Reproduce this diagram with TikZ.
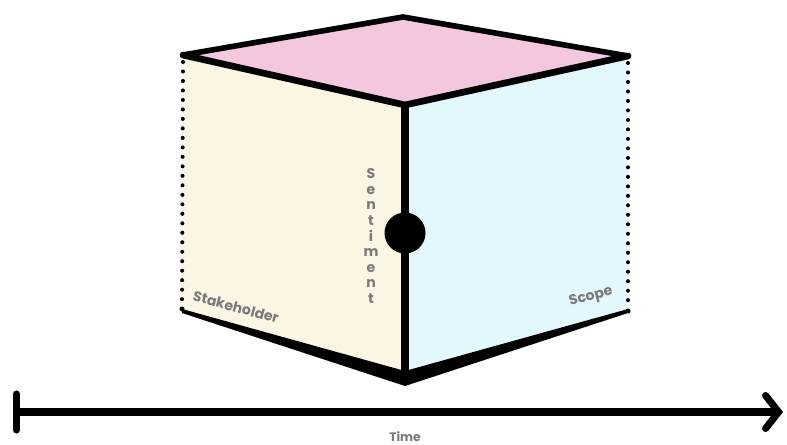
\documentclass[tikz,border=0pt]{standalone}
\usepackage{fontspec}
\setmainfont{Poppins}
\usepackage{tikz}
\usetikzlibrary{arrows.meta}
\usetikzlibrary{calc}

\definecolor{topface}{HTML}{F3C8DE}
\definecolor{leftface}{HTML}{FAF6E3}
\definecolor{rightface}{HTML}{E2F8FC}
\definecolor{labelgray}{HTML}{7A7A7A}

\begin{document}
\begin{tikzpicture}[x=0.02cm, y=-0.02cm,
    dotside/.style={line width=2.3pt, line cap=round, dash pattern=on 0pt off 5.4pt},
    facelabel/.style={font=\fontsize{8}{8}\selectfont\bfseries, text=labelgray, inner sep=0pt}]

        \useasboundingbox (0,0) rectangle (787,445);

        % cube corners
        \coordinate (back) at (403,17);
        \coordinate (tl) at (183,55);
        \coordinate (tr) at (628,56);
        \coordinate (front) at (405,105);
        \coordinate (bl) at (182,309);
        \coordinate (br) at (628,311);
        \coordinate (bottom) at (405,378);

        \fill[topface] (back) -- (tr) -- (front) -- (tl) -- cycle;
        \fill[leftface] (tl) -- (front) -- (bottom) -- (bl) -- cycle;
        \fill[rightface] (front) -- (tr) -- (br) -- (bottom) -- cycle;

        \draw[dotside] (tl) ++(0,7) -- ($(bl)+(0,-5)$);
        \draw[dotside] (tr) ++(0,7) -- ($(br)+(0,-5)$);

        \draw[line width=3.2pt, line cap=round, line join=round] (tl) -- (back) -- (tr);
        \draw[line width=3.8pt, line cap=round, line join=round] (tl) -- (front) -- (tr);
        \draw[line width=4.2pt] (front) -- (bottom);

        % heavy lower edges
        \fill (bl) -- ($(bottom)+(0,-7)$) -- ($(br)+(0,-2)$) -- ($(br)+(0,2)$) -- ($(bottom)+(0,8)$) -- ($(bl)+(0,4)$) -- cycle;
        \fill (bl) circle (2.5);
        \fill (br) circle (2.5);

        \node[circle, fill=black, minimum size=0.82cm, inner sep=0pt] (dot) at (405,233) {};

        \node[facelabel, font=\fontsize{8}{8.85}\selectfont\bfseries, align=center] (sentiment) at (371,236)
          {S\\e\\n\\t\\i\\m\\e\\n\\t};
        \node[facelabel, rotate=-15] (stakeholder) at (236,307) {Stakeholder};
        \node[facelabel, rotate=15] (scope) at (591,297) {Scope};

        % time axis
        \coordinate (tstart) at (13,412);
        \coordinate (tend) at (783,412);
        \draw[line width=4pt, {Bar[width=0.72cm, line cap=round]}-{Straight Barb[length=0.26cm, width=0.66cm, line cap=round]}] (tstart) -- (tend);
        \node[font=\fontsize{7}{7}\selectfont\bfseries, text=labelgray] (time) at (405,437) {Time};

      \end{tikzpicture}
\end{document}
